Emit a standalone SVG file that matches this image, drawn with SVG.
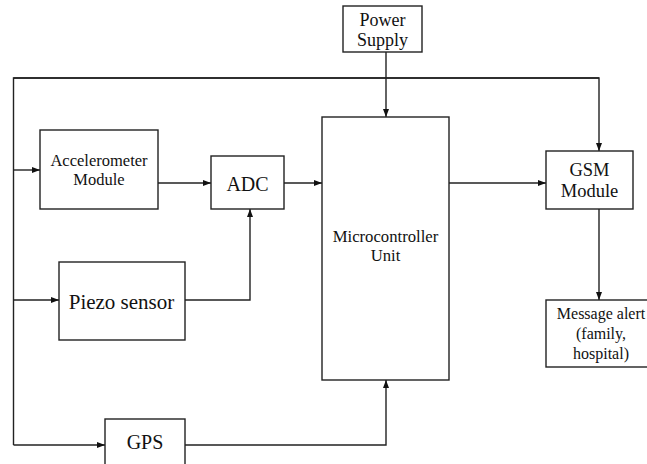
<svg xmlns="http://www.w3.org/2000/svg" width="647" height="464" viewBox="0 0 647 464" font-family="'Liberation Serif', 'Times New Roman', 'DejaVu Serif', serif">
<style>
.box{fill:#fff;stroke:#222;stroke-width:1.4}
.ln{fill:none;stroke:#222;stroke-width:1.4}
text{font-family:'Liberation Serif','Times New Roman','DejaVu Serif',serif;fill:#111;text-anchor:middle}
</style>
<defs>
<marker id="ah" markerUnits="userSpaceOnUse" markerWidth="8" markerHeight="8" viewBox="0 0 8 8" refX="8" refY="4" orient="auto">
<path d="M0,1 L8,4 L0,7 Z" fill="#111"/>
</marker>
</defs>
<rect width="647" height="464" fill="#fff"/>
<g id="connectors">
<path class="ln" d="M599,78 H13.5 V445"/>
<path class="ln" d="M13.5,78 H599 V151" marker-end="url(#ah)"/>
<path class="ln" d="M13.5,170 H40" marker-end="url(#ah)"/>
<path class="ln" d="M13.5,300 H59" marker-end="url(#ah)"/>
<path class="ln" d="M13.5,445 H105" marker-end="url(#ah)"/>
<path class="ln" d="M386,52 V117" marker-end="url(#ah)"/>
<path class="ln" d="M158,183 H211" marker-end="url(#ah)"/>
<path class="ln" d="M284,183 H322" marker-end="url(#ah)"/>
<path class="ln" d="M185,300 H250 V209" marker-end="url(#ah)"/>
<path class="ln" d="M449,183 H546" marker-end="url(#ah)"/>
<path class="ln" d="M599,209 V300" marker-end="url(#ah)"/>
<path class="ln" d="M185,445 H386 V380" marker-end="url(#ah)"/>
</g>
<g id="power">
<rect class="box" x="343" y="6" width="79" height="46"/>
<text x="382.5" y="26" font-size="18">Power</text>
<text x="382.5" y="45.5" font-size="18">Supply</text>
</g>
<g id="accel">
<rect class="box" x="40" y="130" width="118" height="79"/>
<text x="99" y="166" font-size="16.5">Accelerometer</text>
<text x="99" y="185" font-size="16.5">Module</text>
</g>
<g id="adc">
<rect class="box" x="211" y="156" width="73" height="53"/>
<text x="247.5" y="191" font-size="20">ADC</text>
</g>
<g id="piezo">
<rect class="box" x="59" y="262" width="126" height="78"/>
<text x="121.5" y="309" font-size="21">Piezo sensor</text>
</g>
<g id="gps">
<rect class="box" x="105" y="419" width="80" height="60"/>
<text x="145" y="449" font-size="20">GPS</text>
</g>
<g id="mcu">
<rect class="box" x="322" y="117" width="127" height="263"/>
<text x="385.5" y="242" font-size="16.7">Microcontroller</text>
<text x="385.5" y="261" font-size="16.7">Unit</text>
</g>
<g id="gsm">
<rect class="box" x="546" y="151" width="87" height="58"/>
<text x="589.5" y="176" font-size="18.5">GSM</text>
<text x="589.5" y="197" font-size="18.5">Module</text>
</g>
<g id="msg">
<rect class="box" x="546" y="300" width="112" height="67"/>
<text x="601" y="319" font-size="16">Message alert</text>
<text x="601" y="339" font-size="16">(family,</text>
<text x="601" y="359" font-size="16">hospital)</text>
</g>
</svg>
